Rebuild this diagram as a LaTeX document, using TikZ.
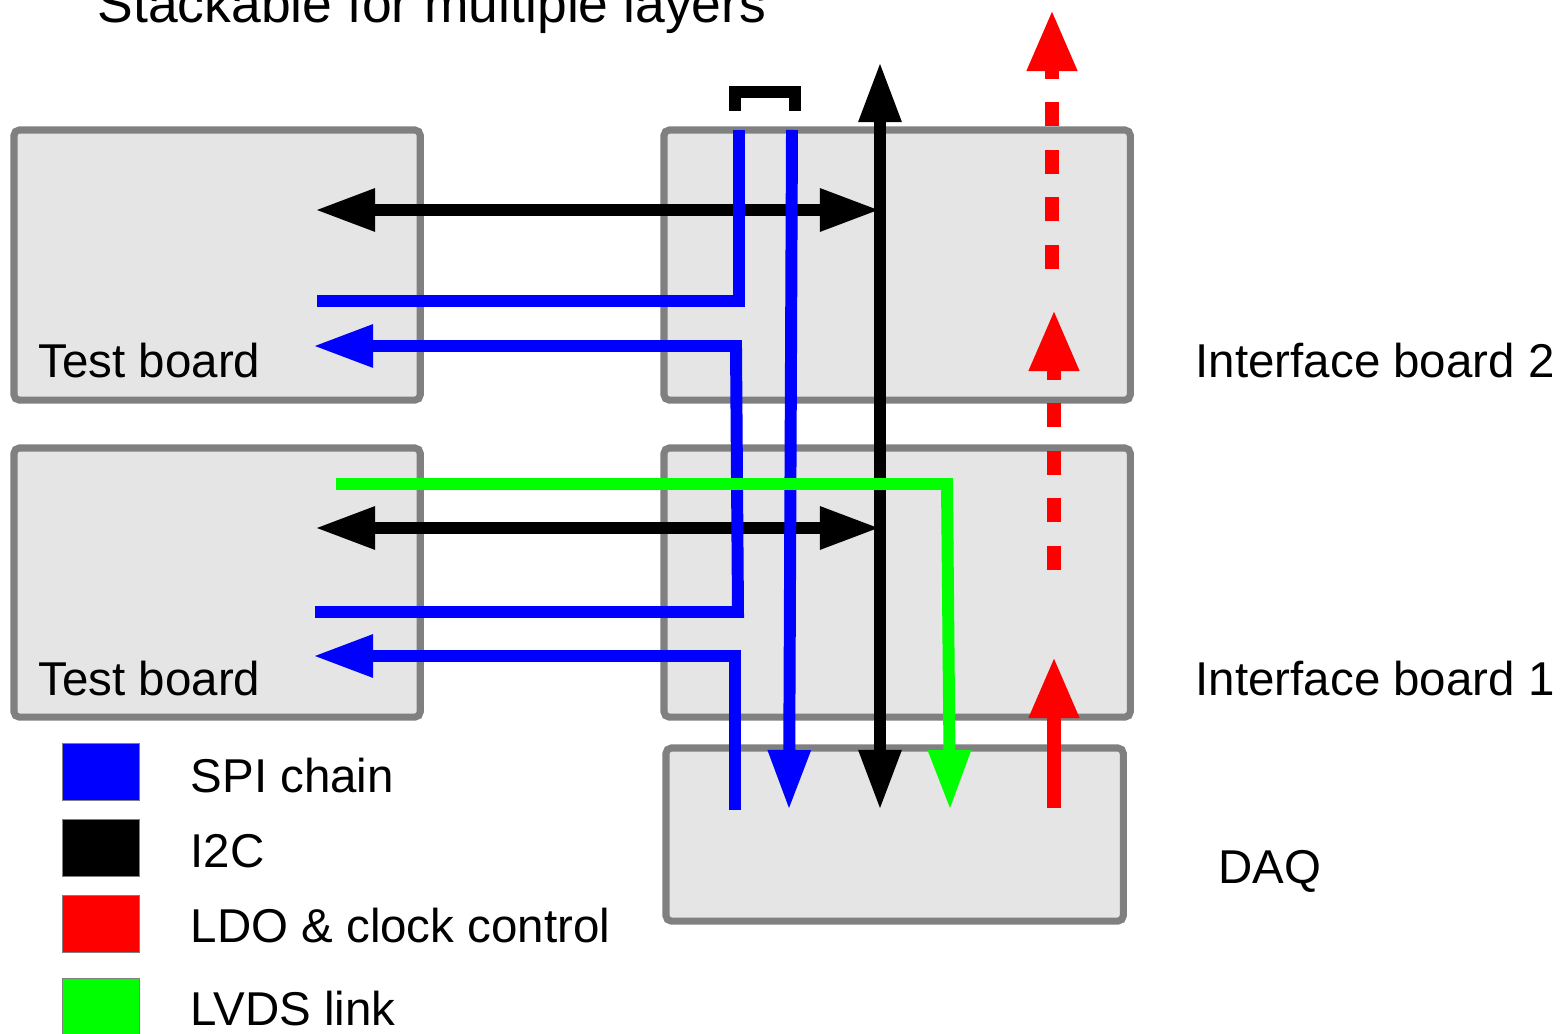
\documentclass[tikz,border=0pt]{standalone}
\usepackage{fontspec}
\setmainfont{Liberation Sans}
\usetikzlibrary{arrows.meta, positioning}

\definecolor{boardfill}{HTML}{E5E5E5}
\definecolor{boardline}{HTML}{808080}
\definecolor{spiblue}{HTML}{0000FF}
\definecolor{ldored}{HTML}{FF0000}
\definecolor{lvdsgreen}{HTML}{00FF00}

\begin{document}
\begin{tikzpicture}[
                    x=0.01cm, y=-0.01cm,
                    board/.style={rectangle, draw=boardline, fill=boardfill, line width=2pt, rounded corners=1.5pt, anchor=north west, inner sep=0pt, outer sep=0pt},
                    label/.style={anchor=base west, inner sep=0pt, font=\fontsize{13.5}{16}\selectfont},
                    swatch/.style={rectangle, draw=boardline, line width=0.4pt, minimum width=0.77cm, minimum height=0.57cm, anchor=north west, inner sep=0pt},
                    wire/.style={line width=3.4pt},
                    tip/.style={-{Triangle[length=0.6cm, width=0.4cm]}},
                    twotip/.style={{Triangle[length=0.6cm, width=0.4cm]}-{Triangle[length=0.6cm, width=0.4cm]}},
                    uptip/.style={-{Triangle[length=0.61cm, width=0.47cm]}},
                    ldo/.style={wire, ldored, line width=3.8pt, uptip}
                ]
                \useasboundingbox (0,0) rectangle (1560,1034);

                \node[anchor=base west, inner sep=0pt, font=\fontsize{15.2}{18}\selectfont] (title) at (97,23) {Stackable for multiple layers};

                \node[board, minimum width=4.06cm, minimum height=2.7cm] (tb2) at (14,130) {};
                \node[board, minimum width=4.06cm, minimum height=2.69cm] (tb1) at (14,448) {};
                \node[board, minimum width=4.66cm, minimum height=2.7cm] (ib2) at (664,130) {};
                \node[board, minimum width=4.66cm, minimum height=2.69cm] (ib1) at (664,448) {};
                \node[board, minimum width=4.57cm, minimum height=1.73cm] (daq) at (666,748) {};

                \node[label] (tb2lbl) at (38,378) {Test board};
                \node[label] (tb1lbl) at (38,696) {Test board};
                \node[label] (ib2lbl) at (1195,378) {Interface board 2};
                \node[label] (ib1lbl) at (1195,696) {Interface board 1};
                \node[label] (daqlbl) at (1218,884) {DAQ};

                % signal end points
                \coordinate (i2ctopl) at (315,210);
                \coordinate (i2ctopr) at (880,210);
                \coordinate (i2cbotl) at (315,528);
                \coordinate (i2cbotr) at (880,528);
                \coordinate (i2cup) at (880,62);
                \coordinate (i2cdaq) at (880,810);
                \coordinate (spiout2) at (317,301);
                \coordinate (spiin2) at (313,346);
                \coordinate (spiout1) at (315,612);
                \coordinate (spiin1) at (313,656);
                \coordinate (spileft) at (739,130);
                \coordinate (spiright) at (792,130);
                \coordinate (spidaqin) at (735,810);
                \coordinate (spidaqout) at (789,810);
                \coordinate (lvdstb) at (336,484);
                \coordinate (lvdsdaq) at (950,810);
                \coordinate (ldodaq) at (1054,808);
                \coordinate (ldoib1) at (1054,657);
                \coordinate (ldofrom1) at (1054,570);
                \coordinate (ldoib2) at (1054,310);
                \coordinate (ldofrom2) at (1052,269);
                \coordinate (ldonext) at (1052,10);

                \draw[wire, twotip] (i2cdaq) -- (i2cup);
                \draw[wire, twotip] (i2ctopl) -- (i2ctopr);
                \draw[wire, twotip] (i2cbotl) -- (i2cbotr);
                \draw[line width=3.4pt] (735,111) -- (735,92) -- (795,92) -- (795,111);

                \draw[wire, spiblue] (spiout2) -- (spileft |- spiout2) -- (spileft);
                \draw[wire, spiblue, tip] (spiout1) -- (738,612) -- (736,346) -- (spiin2);
                \draw[wire, spiblue, tip] (spidaqin) -- (spidaqin |- spiin1) -- (spiin1);
                \draw[wire, spiblue, tip] (spiright) -- (spidaqout);

                \draw[wire, lvdsgreen, tip] (lvdstb) -- (947,484) -- (lvdsdaq);

                \draw[ldo] (ldodaq) -- (ldoib1);
                \draw[ldo, dash pattern=on 0.24cm off 0.235cm] (ldofrom1) -- (ldoib2);
                \draw[ldo, dash pattern=on 0.24cm off 0.235cm] (ldofrom2) -- (ldonext);

                \node[swatch, fill=spiblue] (legspi) at (62,743) {};
                \node[swatch, fill=black] (legi2c) at (62,819) {};
                \node[swatch, fill=ldored] (legldo) at (62,895) {};
                \node[swatch, fill=lvdsgreen] (leglvds) at (62,978) {};
                \node[label] (legspilbl) at (190,793) {SPI chain};
                \node[label] (legi2clbl) at (190,868) {I2C};
                \node[label] (legldolbl) at (190,943) {LDO \& clock control};
                \node[label] (leglvdslbl) at (190,1025) {LVDS link};
                \end{tikzpicture}
\end{document}
